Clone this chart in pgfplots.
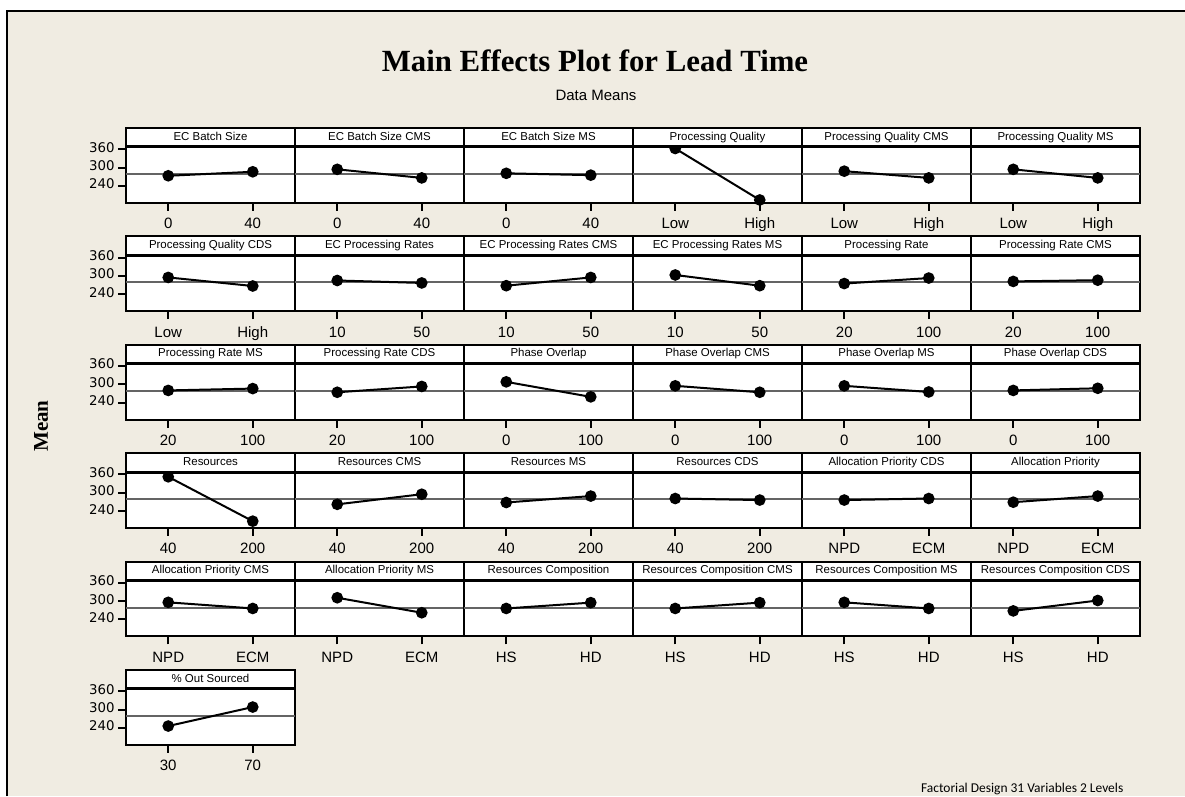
\documentclass[border=0pt]{standalone}
\usepackage{pgfplots}
\pgfplotsset{compat=1.18}
\usepackage{fontspec}
\setmainfont{Liberation Sans}
\newfontfamily\serifbold{Liberation Serif}
\newfontfamily\calibri{Carlito}
\newfontfamily\dejavu{DejaVu Sans}
\definecolor{paper}{RGB}{240,236,226}
\definecolor{meangray}{RGB}{100,100,100}

% One panel of the main effects grid: column, row, factor name, low level, high level
\pgfplotsset{
  panel/.style n args={5}{
    at={({(126+169*#1)*0.75pt},{-(202.7+108.4*#2)*0.75pt})},
    anchor=south west,
    scale only axis,
    width=126.75pt, height=41.55pt,
    xmin=-0.5, xmax=1.5, ymin=185, ymax=366,
    xtick={0,1}, xticklabels={#4,#5},
    ytick=\empty,
    tick pos=left, tick align=outside,
    major tick length=6pt,
    tick style={black, line width=1.5pt},
    axis line style={black, line width=1.5pt},
    axis background/.style={fill=white},
    clip=false,
    /pgf/number format/assume math mode=true,
    typeset ticklabels with strut,
    xticklabel style={font=\fontsize{11.25pt}{12pt}\selectfont, yshift=-1.5pt},
    yticklabel style={font=\dejavu\fontsize{10pt}{11pt}\selectfont, xshift=1pt},
    title={#3},
    every axis title shift=0pt,
    title style={at={(rel axis cs:0.5,1)}, anchor=south, yshift=0pt,
      draw=black, line width=1.5pt, fill=white, inner sep=0pt,
      minimum width=126.75pt, minimum height=13.75pt,
      text height=6.3pt, text depth=1.8pt,
      font=\fontsize{8.6pt}{10pt}\selectfont},
  },
  ylab/.style={ytick={240,300,360}},
  meanline/.style={meangray, line width=1.5pt, no marks, forget plot},
  effect/.style={black, line width=1.5pt, mark=*, mark size=3.6pt},
}

\begin{document}
\begin{tikzpicture}
\begin{scope}[x=0.75pt, y=-0.75pt]
  \path[use as bounding box] (0,0) rectangle (1185,796);
  \fill[white] (0,0) rectangle (1185,796);
  \fill[paper] (7,11) rectangle (1185,796);
  \draw[line width=1.5pt] (7,796) -- (7,11) -- (1185,11);
  \node[font=\serifbold\bfseries\fontsize{23.1pt}{25pt}\selectfont, anchor=base] at (595,71) {Main Effects Plot for Lead Time};
  \node[font=\fontsize{11.25pt}{12pt}\selectfont, anchor=base] at (596,100) {Data Means};
  \node[font=\serifbold\bfseries\fontsize{15.75pt}{17pt}\selectfont, rotate=90] at (41,426) {Mean};
  \node[font=\calibri\fontsize{10.1pt}{12pt}\selectfont, anchor=base east] at (1128,792) {Factorial Design 31 Variables 2 Levels};
\end{scope}

% ---------- row 1 ----------
\begin{axis}[panel={0}{0}{EC Batch Size}{0}{40}, ylab]
\addplot[meanline] coordinates {(-0.5,279) (1.5,279)};
\addplot[effect] coordinates {(0,273) (1,286)};
\end{axis}
\begin{axis}[panel={1}{0}{EC Batch Size CMS}{0}{40}]
\addplot[meanline] coordinates {(-0.5,279) (1.5,279)};
\addplot[effect] coordinates {(0,294) (1,266)};
\end{axis}
\begin{axis}[panel={2}{0}{EC Batch Size MS}{0}{40}]
\addplot[meanline] coordinates {(-0.5,279) (1.5,279)};
\addplot[effect] coordinates {(0,281) (1,275)};
\end{axis}
\begin{axis}[panel={3}{0}{Processing Quality}{Low}{High}]
\addplot[meanline] coordinates {(-0.5,279) (1.5,279)};
\addplot[effect] coordinates {(0,362) (1,194)};
\end{axis}
\begin{axis}[panel={4}{0}{Processing Quality CMS}{Low}{High}]
\addplot[meanline] coordinates {(-0.5,279) (1.5,279)};
\addplot[effect] coordinates {(0,288) (1,266)};
\end{axis}
\begin{axis}[panel={5}{0}{Processing Quality MS}{Low}{High}]
\addplot[meanline] coordinates {(-0.5,279) (1.5,279)};
\addplot[effect] coordinates {(0,294) (1,266)};
\end{axis}

% ---------- row 2 ----------
\begin{axis}[panel={0}{1}{Processing Quality CDS}{Low}{High}, ylab]
\addplot[meanline] coordinates {(-0.5,279) (1.5,279)};
\addplot[effect] coordinates {(0,295) (1,267)};
\end{axis}
\begin{axis}[panel={1}{1}{EC Processing Rates}{10}{50}]
\addplot[meanline] coordinates {(-0.5,279) (1.5,279)};
\addplot[effect] coordinates {(0,285) (1,277)};
\end{axis}
\begin{axis}[panel={2}{1}{EC Processing Rates CMS}{10}{50}]
\addplot[meanline] coordinates {(-0.5,279) (1.5,279)};
\addplot[effect] coordinates {(0,268) (1,295)};
\end{axis}
\begin{axis}[panel={3}{1}{EC Processing Rates MS}{10}{50}]
\addplot[meanline] coordinates {(-0.5,279) (1.5,279)};
\addplot[effect] coordinates {(0,303) (1,268)};
\end{axis}
\begin{axis}[panel={4}{1}{Processing Rate}{20}{100}]
\addplot[meanline] coordinates {(-0.5,279) (1.5,279)};
\addplot[effect] coordinates {(0,275) (1,293)};
\end{axis}
\begin{axis}[panel={5}{1}{Processing Rate CMS}{20}{100}]
\addplot[meanline] coordinates {(-0.5,279) (1.5,279)};
\addplot[effect] coordinates {(0,282) (1,286)};
\end{axis}

% ---------- row 3 ----------
\begin{axis}[panel={0}{2}{Processing Rate MS}{20}{100}, ylab]
\addplot[meanline] coordinates {(-0.5,279) (1.5,279)};
\addplot[effect] coordinates {(0,280) (1,286)};
\end{axis}
\begin{axis}[panel={1}{2}{Processing Rate CDS}{20}{100}]
\addplot[meanline] coordinates {(-0.5,279) (1.5,279)};
\addplot[effect] coordinates {(0,274) (1,293)};
\end{axis}
\begin{axis}[panel={2}{2}{Phase Overlap}{0}{100}]
\addplot[meanline] coordinates {(-0.5,279) (1.5,279)};
\addplot[effect] coordinates {(0,308) (1,259)};
\end{axis}
\begin{axis}[panel={3}{2}{Phase Overlap CMS}{0}{100}]
\addplot[meanline] coordinates {(-0.5,279) (1.5,279)};
\addplot[effect] coordinates {(0,295) (1,274)};
\end{axis}
\begin{axis}[panel={4}{2}{Phase Overlap MS}{0}{100}]
\addplot[meanline] coordinates {(-0.5,279) (1.5,279)};
\addplot[effect] coordinates {(0,295) (1,275)};
\end{axis}
\begin{axis}[panel={5}{2}{Phase Overlap CDS}{0}{100}]
\addplot[meanline] coordinates {(-0.5,279) (1.5,279)};
\addplot[effect] coordinates {(0,280) (1,287)};
\end{axis}

% ---------- row 4 ----------
\begin{axis}[panel={0}{3}{Resources}{40}{200}, ylab]
\addplot[meanline] coordinates {(-0.5,279) (1.5,279)};
\addplot[effect] coordinates {(0,352) (1,207)};
\end{axis}
\begin{axis}[panel={1}{3}{Resources CMS}{40}{200}]
\addplot[meanline] coordinates {(-0.5,279) (1.5,279)};
\addplot[effect] coordinates {(0,262) (1,295)};
\end{axis}
\begin{axis}[panel={2}{3}{Resources MS}{40}{200}]
\addplot[meanline] coordinates {(-0.5,279) (1.5,279)};
\addplot[effect] coordinates {(0,268) (1,289)};
\end{axis}
\begin{axis}[panel={3}{3}{Resources CDS}{40}{200}]
\addplot[meanline] coordinates {(-0.5,279) (1.5,279)};
\addplot[effect] coordinates {(0,281) (1,276)};
\end{axis}
\begin{axis}[panel={4}{3}{Allocation Priority CDS}{NPD}{ECM}]
\addplot[meanline] coordinates {(-0.5,279) (1.5,279)};
\addplot[effect] coordinates {(0,276) (1,281)};
\end{axis}
\begin{axis}[panel={5}{3}{Allocation Priority}{NPD}{ECM}]
\addplot[meanline] coordinates {(-0.5,279) (1.5,279)};
\addplot[effect] coordinates {(0,269) (1,289)};
\end{axis}

% ---------- row 5 ----------
\begin{axis}[panel={0}{4}{Allocation Priority CMS}{NPD}{ECM}, ylab]
\addplot[meanline] coordinates {(-0.5,279) (1.5,279)};
\addplot[effect] coordinates {(0,296) (1,276)};
\end{axis}
\begin{axis}[panel={1}{4}{Allocation Priority MS}{NPD}{ECM}]
\addplot[meanline] coordinates {(-0.5,279) (1.5,279)};
\addplot[effect] coordinates {(0,311) (1,262)};
\end{axis}
\begin{axis}[panel={2}{4}{Resources Composition}{HS}{HD}]
\addplot[meanline] coordinates {(-0.5,279) (1.5,279)};
\addplot[effect] coordinates {(0,276) (1,295)};
\end{axis}
\begin{axis}[panel={3}{4}{Resources Composition CMS}{HS}{HD}]
\addplot[meanline] coordinates {(-0.5,279) (1.5,279)};
\addplot[effect] coordinates {(0,276) (1,295)};
\end{axis}
\begin{axis}[panel={4}{4}{Resources Composition MS}{HS}{HD}]
\addplot[meanline] coordinates {(-0.5,279) (1.5,279)};
\addplot[effect] coordinates {(0,296) (1,276)};
\end{axis}
\begin{axis}[panel={5}{4}{Resources Composition CDS}{HS}{HD}]
\addplot[meanline] coordinates {(-0.5,279) (1.5,279)};
\addplot[effect] coordinates {(0,268) (1,302)};
\end{axis}

% ---------- row 6 ----------
\begin{axis}[panel={0}{5}{\% Out Sourced}{30}{70}, ylab]
\addplot[meanline] coordinates {(-0.5,279) (1.5,279)};
\addplot[effect] coordinates {(0,246) (1,308)};
\end{axis}
\end{tikzpicture}
\end{document}
